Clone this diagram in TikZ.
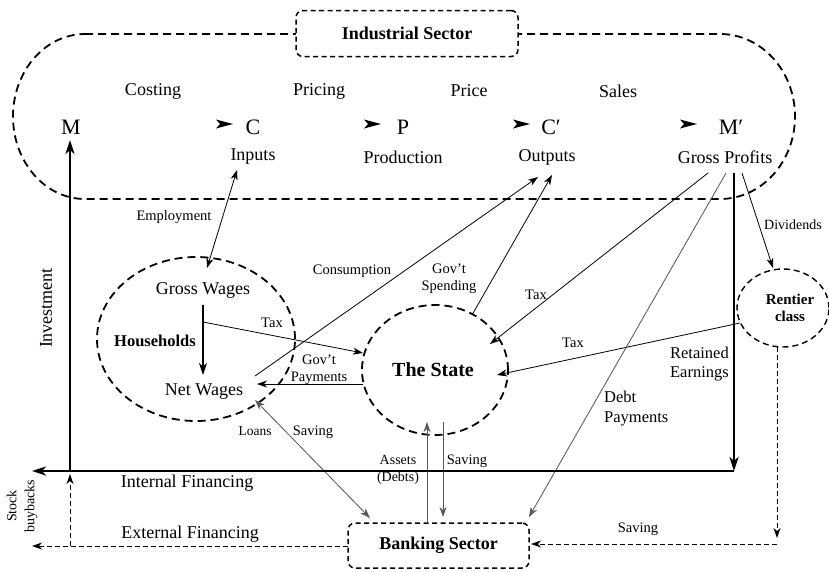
\documentclass[tikz,border=0pt]{standalone}
\usepackage{fontspec}
\setmainfont{Liberation Serif}
\usetikzlibrary{arrows.meta,shapes.geometric}
\begin{document}
\begin{tikzpicture}[x=1pt,y=1pt,
 lbl/.style={font=\fontsize{18}{20}\selectfont, inner sep=0pt},
 sm/.style={font=\fontsize{14.5}{17}\selectfont, inner sep=0pt, align=center},
 sym/.style={font=\fontsize{22}{24}\selectfont, inner sep=0pt},
 dashline/.style={line width=1.8pt, dash pattern=on 8pt off 5pt},
 bx/.style={draw, line width=1.5pt, dash pattern=on 5pt off 3.5pt, rounded corners=7pt, fill=white, inner sep=0pt},
 conn/.style={line width=0.8pt, -{Stealth[length=10pt,width=7pt,inset=3pt]}},
 dconn/.style={line width=0.8pt, {Stealth[length=10pt,width=7pt,inset=3pt]}-{Stealth[length=10pt,width=7pt,inset=3pt]}},
 gconn/.style={conn, draw=black!65, fill=black!65},
 gdconn/.style={dconn, draw=black!65, fill=black!65},
 heavy/.style={line width=2.6pt, -{Stealth[length=14pt,width=9pt,inset=4pt]}},
 medium/.style={line width=1.6pt, -{Stealth[length=12pt,width=8pt,inset=3.5pt]}},
 dashc/.style={line width=1pt, dash pattern=on 5pt off 3pt, -{Stealth[length=10pt,width=7pt,inset=3pt]}},
 ell/.style={draw, ellipse, line width=1.8pt, dash pattern=on 8pt off 5pt, inner sep=0pt}]
\useasboundingbox (0,0) rectangle (829,-571);

% industrial sector outline
\draw[dashline] (85,-34) -- (720,-34)
  arc[start angle=90,end angle=-90,x radius=75pt,y radius=82.5pt]
  -- (85,-199)
  arc[start angle=270,end angle=90,x radius=72pt,y radius=82.5pt] -- cycle;
\node[bx, minimum width=222pt, minimum height=46pt, font=\fontsize{18}{20}\selectfont\bfseries] (ind) at (407,-33.5) {Industrial Sector};

% top labels
\node[lbl] (costing) at (153,-91) {Costing};
\node[lbl] (pricing) at (319,-91) {Pricing};
\node[lbl] (price) at (469,-91) {Price};
\node[lbl] (sales) at (618,-91) {Sales};

\node[sym] (M) at (71,-127) {M};
\node[sym] (C) at (253,-127) {C};
\node[sym] (P) at (403,-127) {P};
\node[sym] (Cp) at (551,-127) {C′};
\node[sym] (Mp) at (731,-127) {M′};
\foreach \x in {224,372,521,688}
  \fill[shift={(\x,-124)}] (-8,4.5) -- (9,0) -- (-8,-4.5) -- (-4,0) -- cycle;

\node[lbl] (inputs) at (253,-157) {Inputs};
\node[lbl] (production) at (403,-157) {Production};
\node[lbl] (outputs) at (547,-157) {Outputs};
\node[lbl] (gprofits) at (725,-157) {Gross Profits};

% households
\node[ell, minimum width=198pt, minimum height=164pt] (hh) at (196,-339) {};
\node[lbl] (gw) at (203,-290) {Gross Wages};
\node[lbl, font=\fontsize{16.5}{18}\selectfont\bfseries] (hhl) at (155,-341) {Households};
\node[lbl] (nw) at (204,-392) {Net Wages};

% state
\node[ell, minimum width=146pt, minimum height=130pt] (state) at (435,-370) {};
\node[lbl, font=\fontsize{20}{22}\selectfont\bfseries] (statel) at (433,-370) {The State};

% rentier
\node[ell, line width=1.4pt, dash pattern=on 6pt off 4pt, minimum width=92pt, minimum height=78pt] (rent) at (783,-308) {};
\node[sm, font=\fontsize{15}{17}\selectfont\bfseries] (rentl) at (790,-308) {Rentier\\class};

% banking
\node[bx, minimum width=181pt, minimum height=45pt, font=\fontsize{18}{20}\selectfont\bfseries] (bank) at (438.5,-545.5) {Banking Sector};

% coordinates
\coordinate (emp1) at (237,-170); \coordinate (emp2) at (207,-268);
\coordinate (gwA) at (203,-305); \coordinate (gwB) at (203,-375);
\coordinate (taxA) at (203,-322); \coordinate (taxB) at (363,-353);
\coordinate (gpA) at (363,-384); \coordinate (gpB) at (257,-384);
\coordinate (conA) at (255,-376); \coordinate (conB) at (538,-177);
\coordinate (gsA) at (472,-315); \coordinate (gsB) at (552,-175);
\coordinate (tx2A) at (708,-173); \coordinate (tx2B) at (490,-344);
\coordinate (tx3A) at (740,-323); \coordinate (tx3B) at (497,-375);
\coordinate (dbA) at (726,-173); \coordinate (dbB) at (529,-517);
\coordinate (divA) at (742,-173); \coordinate (divB) at (773,-268);
\coordinate (lnA) at (255,-400); \coordinate (lnB) at (370,-518);
\coordinate (asA) at (427,-522); \coordinate (asB) at (427,-422);
\coordinate (svA) at (443,-422); \coordinate (svB) at (443,-517);
\coordinate (invA) at (70,-471); \coordinate (invB) at (70,-140);
\coordinate (reA) at (734,-173); \coordinate (reB) at (734,-471);
\coordinate (intB) at (32,-471);
\coordinate (exA) at (348,-546); \coordinate (exB) at (32,-546);
\coordinate (exvA) at (70,-546); \coordinate (exvB) at (70,-474);
\coordinate (bsA) at (777,-347); \coordinate (bsB) at (777,-538);
\coordinate (bhA) at (777,-544); \coordinate (bhB) at (531,-544);

% connectors
\draw[dconn] (emp1) -- (emp2);
\draw[medium] (gwA) -- (gwB);
\draw[conn] (taxA) -- (taxB);
\draw[conn] (gpA) -- (gpB);
\draw[conn] (conA) -- (conB);
\draw[conn] (gsA) -- (gsB);
\draw[conn] (tx2A) -- (tx2B);
\draw[conn] (tx3A) -- (tx3B);
\draw[gconn] (dbA) -- (dbB);
\draw[conn] (divA) -- (divB);
\draw[gdconn] (lnA) -- (lnB);
\draw[gconn] (asA) -- (asB);
\draw[gconn] (svA) -- (svB);
\draw[heavy] (invA) -- (invB);
\draw[heavy] (reA) -- (reB);
\draw[heavy] (reB) -- (intB);
\draw[dashc] (exA) -- (exB);
\draw[dashc] (exvA) -- (exvB);
\draw[dashc] (bsA) -- (bsB);
\draw[dashc] (bhA) -- (bhB);

% connector labels
\node[sm] (lemp) at (174,-217) {Employment};
\node[sm] (ltax1) at (272,-323) {Tax};
\node[sm] (lgp) at (319,-370) {Gov’t\\Payments};
\node[sm] (lcon) at (352,-271) {Consumption};
\node[sm] (lgs) at (449,-279) {Gov’t\\Spending};
\node[sm] (ltax2) at (536,-295) {Tax};
\node[sm] (ltax3) at (573,-343) {Tax};
\node[sm, align=left, anchor=west, font=\fontsize{16.5}{20}\selectfont] (ldb) at (604,-409) {Debt\\Payments};
\node[sm, align=right, anchor=east, font=\fontsize{16.5}{19}\selectfont] (lre) at (729,-364) {Retained\\Earnings};
\node[sm, font=\fontsize{14}{16}\selectfont] (ldiv) at (793,-225) {Dividends};
\node[sm, font=\fontsize{13.5}{16}\selectfont] (lloans) at (255,-431) {Loans};
\node[sm] (lsav1) at (313,-432) {Saving};
\node[sm, font=\fontsize{14}{16.5}\selectfont] (lass) at (398,-470) {Assets\\(Debts)};
\node[sm] (lsav2) at (467,-461) {Saving};
\node[sm] (lsav3) at (638,-529) {Saving};
\node[lbl, rotate=90] (linv) at (46,-308) {Investment};
\node[sm, rotate=90, font=\fontsize{14}{18}\selectfont] (lsb) at (22,-506) {Stock\\buybacks};
\node[lbl] (lint) at (187,-483) {Internal Financing};
\node[lbl] (lext) at (190,-534) {External Financing};
\end{tikzpicture}
\end{document}
